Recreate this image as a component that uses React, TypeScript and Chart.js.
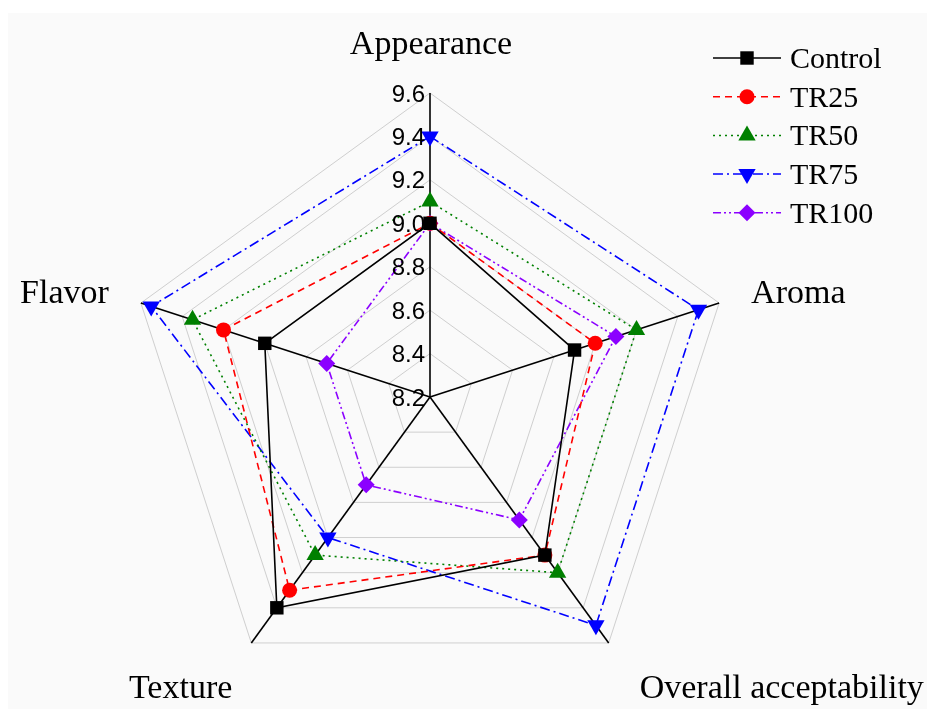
import React, { useEffect, useRef } from "react";
import { Chart, registerables } from "chart.js";

Chart.register(...registerables);

const categories = ["Appearance", "Aroma", "Overall acceptability", "Texture", "Flavor"];
const seriesNames = ["Control", "TR25", "TR50", "TR75", "TR100"];
const controlValues = [9.0, 8.9, 9.1, 9.4, 9.0];
const tr25Values = [9.0, 9.0, 9.1, 9.3, 9.2];
const tr50Values = [9.1, 9.2, 9.2, 9.1, 9.35];
const tr75Values = [9.4, 9.5, 9.5, 9.0, 9.55];
const tr100Values = [9.0, 9.1, 8.9, 8.7, 8.7];
const scaleMin = 8.2;
const scaleMax = 9.6;
const scaleStep = 0.2;

const SERIF = "'Liberation Serif', 'Times New Roman', serif";
const SANS = "'Liberation Sans', Arial, sans-serif";

type Style = {
  color: string;
  dash: number[];
  point: string;
  rotation: number;
  radius: number;
};

const styles: Style[] = [
  { color: "#000000", dash: [], point: "rect", rotation: 0, radius: 9.5 },
  { color: "#ff0000", dash: [7, 5], point: "circle", rotation: 0, radius: 7.5 },
  { color: "#008000", dash: [2, 4], point: "triangle", rotation: 0, radius: 10 },
  { color: "#0000ff", dash: [10, 4, 2, 4], point: "triangle", rotation: 180, radius: 10 },
  { color: "#8b00ff", dash: [8, 3, 2, 3, 2, 3], point: "rectRot", rotation: 0, radius: 8.5 },
];

function drawMarker(ctx: CanvasRenderingContext2D, s: Style, x: number, y: number) {
  const r = s.radius;
  ctx.save();
  ctx.fillStyle = s.color;
  ctx.setLineDash([]);
  ctx.beginPath();
  if (s.point === "circle") {
    ctx.arc(x, y, r, 0, Math.PI * 2);
  } else if (s.point === "rect") {
    const h = r * Math.SQRT1_2;
    ctx.rect(x - h, y - h, 2 * h, 2 * h);
  } else if (s.point === "rectRot") {
    ctx.moveTo(x, y - r);
    ctx.lineTo(x + r, y);
    ctx.lineTo(x, y + r);
    ctx.lineTo(x - r, y);
    ctx.closePath();
  } else if (s.point === "triangle") {
    const rot = (s.rotation * Math.PI) / 180;
    for (let k = 0; k < 3; k++) {
      const a = rot - Math.PI / 2 + (k * 2 * Math.PI) / 3;
      const px = x + r * Math.cos(a);
      const py = y + r * Math.sin(a);
      if (k === 0) ctx.moveTo(px, py);
      else ctx.lineTo(px, py);
    }
    ctx.closePath();
  }
  ctx.fill();
  ctx.restore();
}

const backgroundPlugin = {
  id: "panelBg",
  beforeDraw(chart: any) {
    const ctx = chart.ctx as CanvasRenderingContext2D;
    ctx.save();
    ctx.fillStyle = "#ffffff";
    ctx.fillRect(0, 0, chart.width, chart.height);
    ctx.fillStyle = "#fafafa";
    ctx.fillRect(8, 13, chart.width - 8, chart.height - 13);
    ctx.restore();
  },
};

const labelsPlugin = {
  id: "customLabels",
  afterDraw(chart: any) {
    const ctx = chart.ctx as CanvasRenderingContext2D;
    const scale = chart.scales.r;
    const cx = scale.xCenter;
    const cy = scale.yCenter;

    // tick labels
    ctx.save();
    ctx.fillStyle = "#000";
    ctx.font = `24px ${SANS}`;
    ctx.textAlign = "right";
    ctx.textBaseline = "alphabetic";
    scale.ticks.forEach((t: any) => {
      const d = scale.getDistanceFromCenterForValue(t.value);
      ctx.fillText(Number(t.value).toFixed(1), cx - 5, cy - d + 8.5);
    });
    ctx.restore();

    // point labels
    ctx.save();
    ctx.fillStyle = "#000";
    ctx.font = `34px ${SERIF}`;
    ctx.textBaseline = "alphabetic";
    const outer = scale.drawingArea;
    const offsets = [
      { dx: 1, dy: -39.5, align: "center" },
      { dx: 32, dy: 0, align: "left" },
      { dx: 31, dy: 55, align: "left" },
      { dx: -19, dy: 55, align: "right" },
      { dx: -32, dy: 0, align: "right" },
    ];
    categories.forEach((c, i) => {
      const p = scale.getPointPosition(i, outer);
      const o = offsets[i];
      ctx.textAlign = o.align as CanvasTextAlign;
      ctx.fillText(c, p.x + o.dx, p.y + o.dy);
    });
    ctx.restore();

    // legend
    ctx.save();
    const x0 = 713;
    const x1 = 781;
    const xm = 747;
    const y0 = 58;
    const step = 38.7;
    chart.data.datasets.forEach((ds: any, i: number) => {
      const s = styles[i];
      const y = y0 + i * step;
      ctx.strokeStyle = s.color;
      ctx.lineWidth = 1.5;
      ctx.setLineDash(s.dash);
      ctx.beginPath();
      ctx.moveTo(x0, y);
      ctx.lineTo(x1, y);
      ctx.stroke();
      drawMarker(ctx, s, xm, y);
      ctx.fillStyle = "#000";
      ctx.font = `30px ${SERIF}`;
      ctx.textAlign = "left";
      ctx.textBaseline = "alphabetic";
      ctx.fillText(ds.label, 790, y + 10);
    });
    ctx.restore();
  },
};

export default function App() {
  const canvasRef = useRef<HTMLCanvasElement | null>(null);

  useEffect(() => {
    const canvas = canvasRef.current;
    if (!canvas) return;
    const values = [controlValues, tr25Values, tr50Values, tr75Values, tr100Values];
    const chart = new Chart(canvas, {
      type: "radar",
      data: {
        labels: categories,
        datasets: values.map((v, i) => ({
          label: seriesNames[i],
          data: v,
          borderColor: styles[i].color,
          backgroundColor: styles[i].color,
          borderWidth: 1.6,
          borderDash: styles[i].dash,
          fill: false,
          pointStyle: styles[i].point as any,
          pointRotation: styles[i].rotation,
          pointRadius: styles[i].radius,
          pointBackgroundColor: styles[i].color,
          pointBorderColor: styles[i].color,
          pointBorderWidth: 0,
          tension: 0,
        })),
      },
      options: {
        responsive: false,
        animation: false,
        devicePixelRatio: 1,
        layout: { padding: { left: 100, right: 166, top: 93, bottom: 7 } },
        plugins: {
          legend: { display: false },
          tooltip: { enabled: false },
        },
        scales: {
          r: {
            min: scaleMin,
            max: scaleMax,
            ticks: { stepSize: scaleStep, display: false },
            grid: { color: "#cfcfcf", lineWidth: 1 },
            angleLines: { color: "#000000", lineWidth: 1.6 },
            pointLabels: { display: false },
          },
        },
      },
      plugins: [backgroundPlugin, labelsPlugin],
    });
    return () => chart.destroy();
  }, []);

  return (
    <div style={{ position: "absolute", left: 0, top: 0, width: 927, height: 709 }}>
      <canvas ref={canvasRef} width={927} height={709} style={{ display: "block" }} />
    </div>
  );
}
